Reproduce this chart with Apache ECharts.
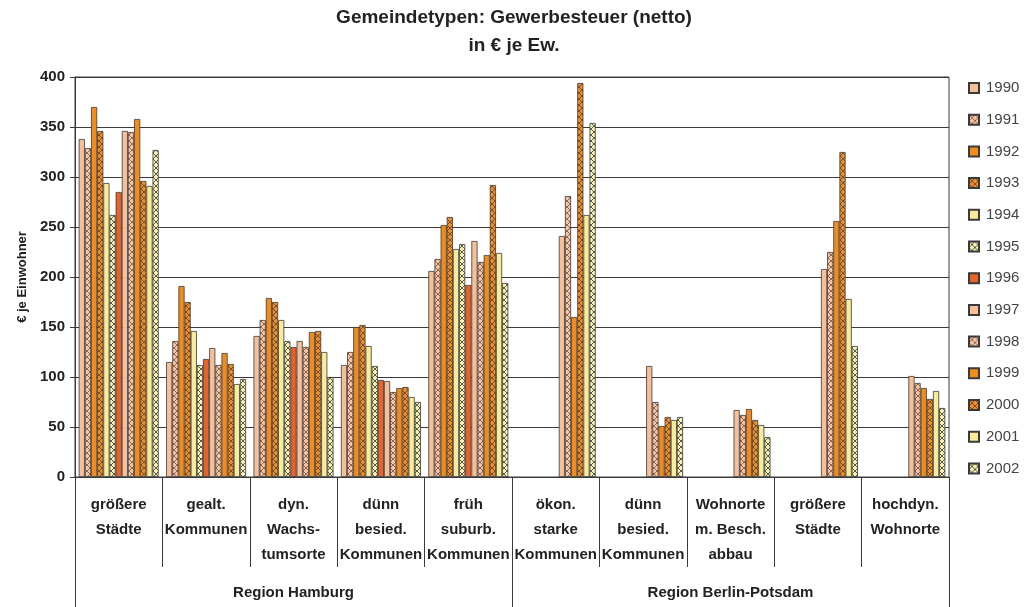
<!DOCTYPE html>
<html>
<head>
<meta charset="utf-8">
<script src="https://cdn.jsdelivr.net/npm/echarts@6/dist/echarts.min.js"></script>
<style>
html,body{margin:0;padding:0;background:#fff;}
#chart{width:1028px;height:607px;}
</style>
</head>
<body>
<div id="chart"></div>
<script>
// ---- data ----
const categories = ['größere\nStädte', 'gealt.\nKommunen', 'dyn.\nWachs-\ntumsorte', 'dünn\nbesied.\nKommunen', 'früh\nsuburb.\nKommunen',
  'ökon.\nstarke\nKommunen', 'dünn\nbesied.\nKommunen', 'Wohnorte\nm. Besch.\nabbau', 'größere\nStädte', 'hochdyn.\nWohnorte'];
const regions = ['Region Hamburg', 'Region Berlin-Potsdam'];
const years = ['1990','1991','1992','1993','1994','1995','1996','1997','1998','1999','2000','2001','2002'];
const yTicks = [0, 50, 100, 150, 200, 250, 300, 350, 400];

// values per Gemeindetyp, one per year 1990..2002
const hhGroessereStaedte   = [338, 329, 370, 346, 294, 262, 285, 346, 345, 358, 296, 291, 327];
const hhGealtKommunen      = [115, 136, 191, 175, 146, 112, 118, 129, 112, 124, 113, 93, 98];
const hhDynWachstumsorte   = [141, 157, 179, 175, 157, 136, 130, 136, 130, 145, 146, 125, 100];
const hhDuennBesiedelt     = [112, 125, 150, 152, 131, 111, 97, 96, 85, 89, 90, 80, 75];
const hhFruehSuburban      = [206, 218, 252, 260, 228, 233, 192, 236, 215, 222, 292, 224, 194];
const bpOekonStark         = [null, null, null, null, null, null, null, 241, 281, 160, 394, 262, 354];
const bpDuennBesiedelt     = [null, null, null, null, null, null, null, 111, 75, 51, 60, 57, 60];
const bpWohnorteBeschAbbau = [null, null, null, null, null, null, null, 67, 62, 68, 57, 52, 40];
const bpGroessereStaedte   = [null, null, null, null, null, null, null, 208, 225, 256, 325, 178, 131];
const bpHochdynWohnorte    = [null, null, null, null, null, null, null, 101, 94, 89, 78, 86, 69];

const groups = [hhGroessereStaedte, hhGealtKommunen, hhDynWachstumsorte, hhDuennBesiedelt, hhFruehSuburban,
  bpOekonStark, bpDuennBesiedelt, bpWohnorteBeschAbbau, bpGroessereStaedte, bpHochdynWohnorte];

// ---- styles ----
function hatch(bg, line) {
  const c = document.createElement('canvas');
  c.width = 6; c.height = 6;
  const g = c.getContext('2d');
  g.fillStyle = bg; g.fillRect(0, 0, 6, 6);
  g.strokeStyle = line; g.lineWidth = 0.9;
  g.beginPath();
  g.moveTo(0, 0); g.lineTo(6, 6);
  g.moveTo(6, 0); g.lineTo(0, 6);
  g.stroke();
  return { image: c, repeat: 'repeat' };
}
const fills = [
  '#F5BF98',
  hatch('#F4C6A4', '#8A5A48'),
  '#F08C1E',
  hatch('#EE8E28', '#7A4420'),
  '#F8EC98',
  hatch('#F7F0B4', '#4A4A3A'),
  '#E8622A'
];
const yearFill = i => fills[i < 7 ? i : i - 7];

const series = years.map((y, i) => ({
  name: y,
  type: 'bar',
  xAxisIndex: 0,
  barGap: '0%',
  barCategoryGap: '8.5%',
  itemStyle: { color: yearFill(i), borderColor: '#3a3a3a', borderWidth: 0.8 },
  data: groups.map(g => g[i])
}));

const fontFam = '"Liberation Sans", Arial, sans-serif';
const chart = echarts.init(document.getElementById('chart'), null, { renderer: 'canvas' });
chart.setOption({
  backgroundColor: '#ffffff',
  animation: false,
  title: {
    text: 'Gemeindetypen: Gewerbesteuer (netto)\nin € je Ew.',
    left: 'center',
    top: -1,
    textStyle: { fontFamily: fontFam, fontWeight: 'bold', fontSize: 19, lineHeight: 28, color: '#222' }
  },
  legend: {
    orient: 'vertical',
    left: 963,
    top: 75,
    itemWidth: 10,
    itemHeight: 10,
    itemGap: 15.7,
    icon: 'rect',
    textStyle: { fontFamily: fontFam, fontSize: 15, lineHeight: 16, color: '#444', padding: [0, 0, 0, 2] },
    data: years
  },
  grid: { left: 75, right: 79, top: 77, bottom: 130, show: true, borderColor: '#3a3a3a', borderWidth: 1, containLabel: false },
  xAxis: [
    {
      type: 'category',
      data: categories,
      position: 'bottom',
      axisLine: { show: true, lineStyle: { color: '#3a3a3a', width: 1 } },
      axisTick: { show: true, length: 90, lineStyle: { color: '#3a3a3a' } },
      axisLabel: { interval: 0, margin: 15, fontFamily: fontFam, fontWeight: 'bold', fontSize: 15, lineHeight: 25, color: '#222' }
    },
    {
      type: 'category',
      data: regions,
      position: 'bottom',
      offset: 0,
      axisLine: { show: false },
      axisTick: { show: true, length: 131, lineStyle: { color: '#3a3a3a' } },
      axisLabel: { interval: 0, margin: 107, fontFamily: fontFam, fontWeight: 'bold', fontSize: 15, lineHeight: 18, color: '#222' }
    }
  ],
  yAxis: {
    type: 'value',
    min: yTicks[0],
    max: yTicks[yTicks.length - 1],
    interval: yTicks[1] - yTicks[0],
    name: '€ je Einwohner',
    nameLocation: 'middle',
    nameRotate: 90,
    nameGap: 46,
    nameTextStyle: { fontFamily: fontFam, fontWeight: 'bold', fontSize: 13, color: '#222' },
    axisLine: { show: true, lineStyle: { color: '#3a3a3a' } },
    axisTick: { show: true, length: 5, lineStyle: { color: '#3a3a3a' } },
    axisLabel: { margin: 10, fontFamily: fontFam, fontWeight: 'bold', fontSize: 15, color: '#222' },
    splitLine: { show: true, lineStyle: { color: '#3a3a3a', width: 1 } }
  },
  series: series
});
</script>
</body>
</html>
